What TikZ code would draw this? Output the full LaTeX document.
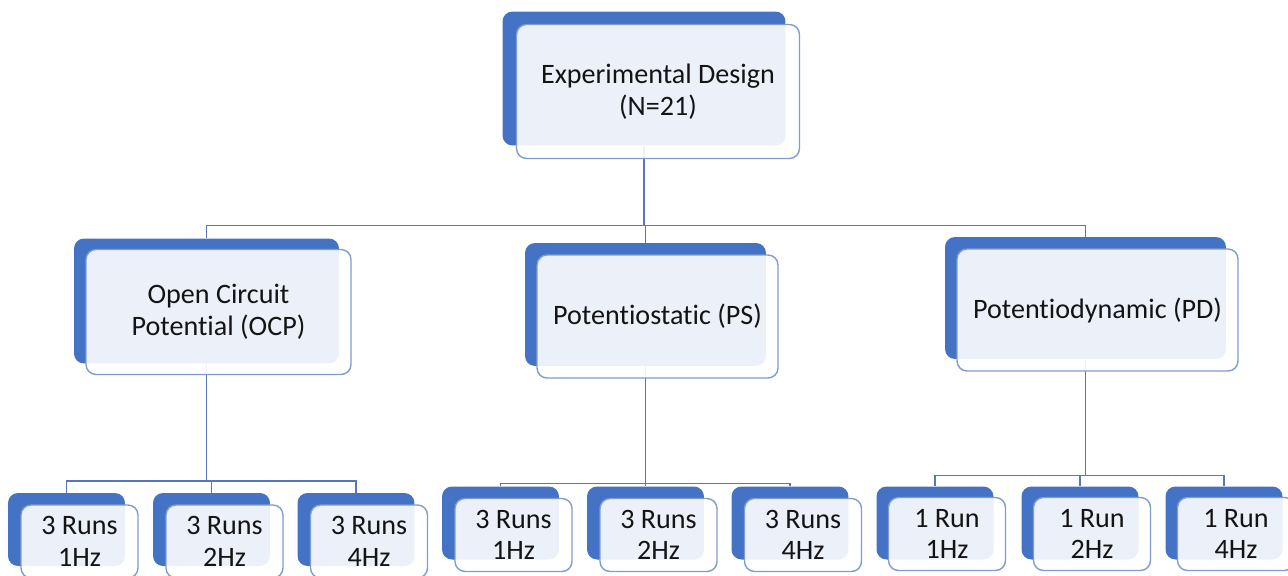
\documentclass[tikz,border=0pt]{standalone}
\usepackage{fontspec}
\setmainfont{Carlito}[Ligatures=NoCommon]
\definecolor{tierblue}{HTML}{4472C4}
\definecolor{frameblue}{HTML}{7F9BD0}
\definecolor{linkblue}{HTML}{5677BD}
\begin{document}
\begin{tikzpicture}[x=0.02cm, y=-0.02cm, font=\fontsize{16}{18}\selectfont]
        \tikzset{back/.style={fill=tierblue, rounded corners=0.2cm, inner sep=0pt},
                 front/.style={draw=frameblue, line width=0.8pt, fill=white, fill opacity=0.9, text opacity=1,
                               text=black!92, rounded corners=0.2cm, align=center, inner sep=0pt},
                 top/.style={minimum width=5.66cm, minimum height=2.68cm},
                 mid/.style={minimum height=2.5cm},
                 leaf/.style={minimum width=2.34cm, minimum height=1.46cm},
                 link/.style={draw=linkblue, line width=0.85pt}}
        \useasboundingbox (0,0) rectangle (1288,575);
        % back plates
        \node[back, top] (design-b) at (644,78.5) {};
        \node[back, mid, minimum width=5.3cm] (ocp-b) at (206.5,301) {};
        \node[back, mid, minimum width=4.82cm, minimum height=2.46cm] (ps-b) at (645.5,304.5) {};
        \node[back, mid, minimum width=5.62cm, minimum height=2.44cm] (pd-b) at (1085.5,298) {};
        \node[back, leaf] (ocp1-b) at (66.5,529.5) {};
        \node[back, leaf] (ocp2-b) at (211.5,529.5) {};
        \node[back, leaf] (ocp4-b) at (356,529.5) {};
        \node[back, leaf] (ps1-b) at (500.5,523) {};
        \node[back, leaf] (ps2-b) at (645.5,523) {};
        \node[back, leaf] (ps4-b) at (790,523) {};
        \node[back, leaf] (pd1-b) at (935,523) {};
        \node[back, leaf] (pd2-b) at (1080,523) {};
        \node[back, leaf] (pd4-b) at (1224,523) {};
        % connectors
        \draw[link] (design-b.south) -- +(0,79.5) -| (ocp-b.north);
        \draw[link] (design-b.south) -- +(0,79.5) -| (ps-b.north);
        \draw[link] (design-b.south) -- +(0,79.5) -| (pd-b.north);
        \draw[link] (ocp-b.south) -- +(0,117) -| (ocp1-b.north);
        \draw[link] (ocp-b.south) -- +(0,117) -| (ocp2-b.north);
        \draw[link] (ocp-b.south) -- +(0,117) -| (ocp4-b.north);
        \draw[link] (ps-b.south) -- +(0,117) -| (ps1-b.north);
        \draw[link] (ps-b.south) -- +(0,117) -| (ps2-b.north);
        \draw[link] (ps-b.south) -- +(0,117) -| (ps4-b.north);
        \draw[link] (pd-b.south) -- +(0,116) -| (pd1-b.north);
        \draw[link] (pd-b.south) -- +(0,116) -| (pd2-b.north);
        \draw[link] (pd-b.south) -- +(0,116) -| (pd4-b.north);
        % front cards
        \node[front, top] (design) at ([shift={(14,13)}]design-b.center) {Experimental Design\\(N=21)};
        \node[front, mid, minimum width=5.3cm] (ocp) at ([shift={(12,11)}]ocp-b.center) {Open Circuit\\Potential (OCP)};
        \node[front, mid, minimum width=4.82cm, minimum height=2.46cm] (ps) at ([shift={(12,12)}]ps-b.center) {Potentiostatic (PS)};
        \node[front, mid, minimum width=5.62cm, minimum height=2.44cm] (pd) at ([shift={(12,12)}]pd-b.center) {Potentiodynamic (PD)};
        \node[front, leaf] (ocp1) at ([shift={(13,12)}]ocp1-b.center) {3 Runs\\1Hz};
        \node[front, leaf] (ocp2) at ([shift={(13,12)}]ocp2-b.center) {3 Runs\\2Hz};
        \node[front, leaf] (ocp4) at ([shift={(13,12)}]ocp4-b.center) {3 Runs\\4Hz};
        \node[front, leaf] (ps1) at ([shift={(13,12)}]ps1-b.center) {3 Runs\\1Hz};
        \node[front, leaf] (ps2) at ([shift={(13,12)}]ps2-b.center) {3 Runs\\2Hz};
        \node[front, leaf] (ps4) at ([shift={(13,12)}]ps4-b.center) {3 Runs\\4Hz};
        \node[front, leaf] (pd1) at ([shift={(12,11)}]pd1-b.center) {1 Run\\1Hz};
        \node[front, leaf] (pd2) at ([shift={(12,11)}]pd2-b.center) {1 Run\\2Hz};
        \node[front, leaf] (pd4) at ([shift={(12,11)}]pd4-b.center) {1 Run\\4Hz};
    \end{tikzpicture}
\end{document}
